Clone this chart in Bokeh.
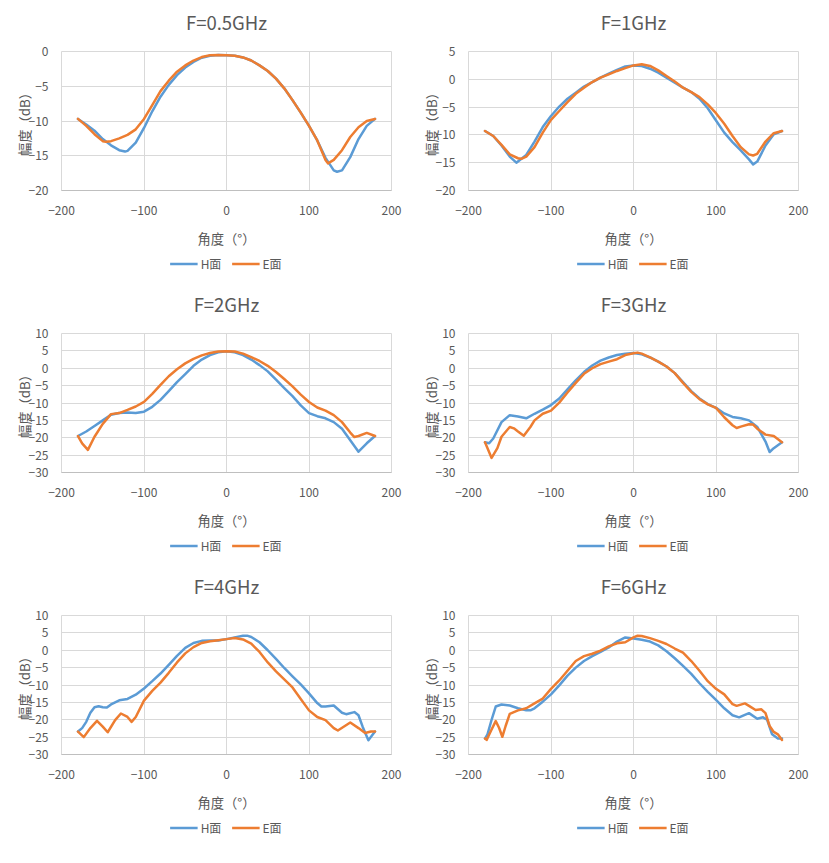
from bokeh.plotting import figure
from bokeh.layouts import column, row
from bokeh.models import Range1d, FixedTicker, Legend, LegendItem, Label
from bokeh.embed import file_html
from bokeh.resources import INLINE

titles = ["F=0.5GHz", "F=1GHz", "F=2GHz", "F=3GHz", "F=4GHz", "F=6GHz"]
y_limits = [(-20, 0), (-20, 5), (-30, 10), (-30, 10), (-30, 10), (-30, 10)]
x_ticks = [-200, -100, 0, 100, 200]
series_names = ["H面", "E面"]
x_label = "角度（°）"
y_label = "幅度（dB）"

h05_deg = [-180, -170, -160, -150, -140, -130, -123, -120, -110, -100, -90, -80, -70, -60, -50, -40, -30, -20, -10, 0,
           10, 20, 30, 40, 50, 60, 70, 80, 90, 100, 110, 120, 130, 134, 140, 150, 160, 170, 180]
h05_db = [-9.7, -10.5, -11.4, -12.6, -13.5, -14.2, -14.4, -14.3, -13.1, -11.0, -8.6, -6.5, -4.8, -3.4, -2.3, -1.5, -0.9, -0.6, -0.5, -0.55,
          -0.6, -0.85, -1.3, -2.0, -2.8, -3.9, -5.3, -7.0, -8.8, -10.7, -12.8, -15.3, -17.1, -17.3, -17.1, -15.2, -12.6, -10.7, -9.7]
e05_deg = [-180, -170, -160, -150, -146, -140, -130, -120, -110, -100, -90, -80, -70, -60, -50, -40, -30, -20, -10, 0,
           10, 20, 30, 40, 50, 60, 70, 80, 90, 100, 110, 120, 123, 130, 140, 150, 160, 170, 180]
e05_db = [-9.7, -10.7, -11.9, -12.9, -13.0, -12.9, -12.5, -12.0, -11.2, -9.7, -7.7, -5.7, -4.2, -2.9, -2.0, -1.3, -0.8, -0.55, -0.5, -0.55,
          -0.6, -0.85, -1.3, -2.0, -2.8, -3.9, -5.3, -7.0, -8.8, -10.7, -12.8, -15.6, -16.1, -15.6, -14.2, -12.3, -10.9, -10.0, -9.7]

h1_deg = [-180, -170, -160, -150, -142, -130, -120, -110, -100, -90, -80, -70, -60, -50, -40, -30, -20, -10, 0,
          10, 20, 30, 40, 50, 60, 70, 80, 90, 100, 110, 120, 130, 140, 145, 150, 160, 170, 180]
h1_db = [-9.3, -10.2, -11.9, -13.9, -15.0, -13.6, -11.2, -8.6, -6.6, -4.9, -3.5, -2.4, -1.3, -0.5, 0.3, 1.0, 1.7, 2.3, 2.5,
         2.4, 1.9, 1.2, 0.3, -0.6, -1.5, -2.3, -3.5, -5.2, -7.4, -9.6, -11.3, -12.8, -14.4, -15.3, -14.8, -11.9, -9.9, -9.3]
e1_deg = [-180, -170, -160, -150, -140, -136, -130, -120, -110, -100, -90, -80, -70, -60, -50, -40, -30, -20, -10, 0,
          10, 20, 30, 40, 50, 60, 70, 80, 90, 100, 110, 120, 130, 140, 145, 150, 160, 170, 180]
e1_db = [-9.3, -10.2, -11.8, -13.5, -14.2, -14.3, -13.9, -12.2, -9.6, -7.3, -5.7, -4.1, -2.6, -1.5, -0.5, 0.3, 0.9, 1.5, 2.0, 2.5,
         2.7, 2.4, 1.6, 0.6, -0.4, -1.5, -2.3, -3.2, -4.5, -6.1, -8.0, -10.2, -12.2, -13.5, -13.7, -13.4, -11.2, -9.7, -9.3]

h2_deg = [-180, -170, -160, -150, -140, -130, -120, -110, -100, -90, -80, -70, -60, -50, -40, -30, -20, -10, 0,
          10, 20, 30, 40, 50, 60, 70, 80, 90, 100, 110, 120, 130, 140, 150, 160, 170, 180]
h2_db = [-19.5, -18.2, -16.6, -15.0, -13.4, -12.9, -12.7, -12.9, -12.5, -11.1, -9.1, -6.6, -4.0, -1.7, 0.7, 2.5, 3.8, 4.6, 4.9,
         4.6, 3.8, 2.5, 0.9, -0.9, -3.3, -5.7, -8.0, -10.7, -12.9, -13.8, -14.4, -15.5, -17.4, -20.7, -24.0, -21.6, -19.5]
e2_deg = [-180, -175, -168, -160, -150, -140, -130, -120, -110, -100, -90, -80, -70, -60, -50, -40, -30, -20, -10, 0,
          10, 20, 30, 40, 50, 60, 70, 80, 90, 100, 110, 120, 130, 140, 150, 155, 160, 170, 180]
e2_db = [-19.5, -21.6, -23.5, -19.7, -16.0, -13.2, -12.9, -12.0, -11.0, -9.7, -7.4, -4.8, -2.3, -0.3, 1.4, 2.7, 3.7, 4.4, 4.8, 4.9,
         4.8, 4.2, 3.2, 2.1, 0.7, -1.1, -3.1, -5.2, -7.6, -9.7, -11.3, -12.2, -13.5, -15.5, -18.5, -19.8, -19.5, -18.6, -19.5]

h3_deg = [-180, -175, -170, -160, -150, -140, -130, -120, -110, -100, -90, -80, -70, -60, -50, -40, -30, -20, -10, 0,
          10, 20, 30, 40, 50, 60, 70, 80, 90, 100, 110, 120, 130, 140, 150, 160, 165, 170, 180]
h3_db = [-21.3, -21.6, -20.2, -15.5, -13.5, -13.9, -14.4, -13.1, -11.9, -10.6, -8.7, -6.1, -3.5, -1.1, 0.8, 2.2, 3.1, 3.8, 4.2, 4.4,
         4.0, 3.1, 1.9, 0.5, -1.4, -4.0, -6.6, -8.7, -10.3, -11.4, -13.0, -14.0, -14.4, -15.0, -16.9, -21.1, -24.1, -23.0, -21.3]
e3_deg = [-180, -172, -165, -160, -150, -145, -140, -133, -125, -120, -110, -100, -90, -80, -70, -60, -50, -40, -30, -20, -10, 0, 5,
          10, 20, 30, 40, 50, 60, 70, 80, 90, 100, 110, 120, 125, 130, 140, 145, 150, 160, 170, 180]
e3_db = [-21.3, -25.8, -23.0, -19.7, -16.9, -17.3, -18.2, -19.4, -16.9, -15.0, -13.1, -12.2, -9.9, -7.0, -4.2, -1.6, 0.0, 1.2, 1.9, 2.6, 3.8, 4.3, 4.5,
         4.2, 3.1, 1.9, 0.5, -1.4, -4.2, -6.8, -8.9, -10.4, -11.4, -14.1, -16.4, -17.2, -16.8, -16.1, -16.2, -17.4, -19.1, -19.5, -21.3]

h4_deg = [-180, -175, -170, -165, -160, -155, -150, -145, -140, -130, -120, -110, -100, -90, -80, -70, -60, -50, -40, -30, -20, -10, 0,
          10, 20, 25, 30, 40, 50, 60, 70, 80, 90, 100, 110, 115, 120, 130, 140, 145, 155, 160, 165, 172, 180]
h4_db = [-23.4, -22.4, -20.6, -18.0, -16.4, -16.1, -16.4, -16.5, -15.6, -14.4, -14.0, -12.8, -11.0, -8.9, -6.7, -4.2, -1.6, 0.7, 2.1, 2.7, 2.8, 2.8, 3.2,
         3.7, 4.2, 4.2, 3.8, 2.3, 0.0, -2.5, -5.1, -7.5, -9.8, -12.4, -15.2, -16.2, -16.2, -15.9, -18.0, -18.4, -17.8, -18.7, -22.0, -25.9, -23.4]
e4_deg = [-180, -173, -165, -157, -150, -144, -135, -128, -120, -115, -110, -100, -90, -80, -70, -60, -50, -40, -30, -20, -10, 0,
          10, 20, 30, 40, 50, 60, 70, 80, 90, 100, 110, 120, 130, 135, 150, 160, 168, 175, 180]
e4_db = [-23.4, -25.0, -22.4, -20.3, -22.0, -23.6, -20.1, -18.2, -19.2, -20.6, -19.2, -14.5, -11.7, -9.3, -6.5, -3.5, -0.9, 0.9, 2.1, 2.6, 2.9, 3.2,
         3.5, 3.1, 1.9, -0.5, -3.5, -6.1, -8.4, -10.7, -14.0, -17.3, -19.2, -20.1, -22.4, -23.1, -20.8, -22.4, -23.8, -23.4, -23.4]

h6_deg = [-180, -177, -172, -167, -160, -150, -140, -130, -125, -120, -110, -100, -90, -80, -70, -60, -50, -40, -30, -20, -10, 0,
          10, 20, 30, 40, 50, 60, 70, 80, 90, 100, 110, 120, 128, 135, 140, 150, 157, 162, 168, 175, 180]
h6_db = [-25.4, -24.2, -20.0, -16.2, -15.6, -15.9, -16.7, -17.3, -17.3, -16.7, -14.8, -12.7, -10.1, -7.3, -5.0, -3.1, -1.7, -0.5, 0.8, 2.5, 3.7, 3.4,
         3.0, 2.5, 1.4, -0.3, -2.3, -4.5, -6.8, -9.5, -12.0, -14.3, -16.7, -18.7, -19.3, -18.6, -18.1, -19.7, -19.3, -20.0, -24.2, -25.4, -25.4]
e6_deg = [-180, -178, -172, -167, -163, -159, -155, -150, -140, -130, -120, -110, -100, -90, -80, -70, -60, -50, -40, -30, -20, -10, 0,
          5, 10, 20, 30, 40, 50, 60, 70, 80, 90, 100, 110, 120, 125, 135, 140, 148, 155, 160, 165, 170, 175, 180]
e6_db = [-25.4, -25.8, -22.8, -20.4, -22.3, -24.9, -21.8, -18.3, -17.3, -16.7, -15.3, -13.9, -11.1, -8.7, -5.9, -3.1, -1.7, -1.0, -0.1, 1.1, 2.0, 2.3, 3.7,
         4.2, 4.1, 3.5, 2.7, 1.8, 0.5, -0.7, -3.1, -5.9, -8.9, -11.1, -12.7, -15.5, -16.0, -15.3, -16.0, -17.2, -17.0, -18.1, -21.8, -23.5, -24.2, -25.8]

h_series = [(h05_deg, h05_db), (h1_deg, h1_db), (h2_deg, h2_db), (h3_deg, h3_db), (h4_deg, h4_db), (h6_deg, h6_db)]
e_series = [(e05_deg, e05_db), (e1_deg, e1_db), (e2_deg, e2_db), (e3_deg, e3_db), (e4_deg, e4_db), (e6_deg, e6_db)]

BLUE = "#5B9BD5"
ORANGE = "#ED7D31"
GRID = "#D9D9D9"
TXT = "#595959"
FONT = "Noto Sans CJK SC"

W = 406
TITLE_H, MAIN_H, LEG_H = 43, 207, 31
LINE_W = 2.5


def blank_fig(height, bottom=0, x_range=(0, 1)):
    f = figure(width=W, height=height, output_backend="svg", toolbar_location=None,
               x_range=Range1d(*x_range), y_range=Range1d(0, 1),
               x_axis_type=None, y_axis_type=None,
               min_border_left=61, min_border_right=15, min_border_top=0, min_border_bottom=bottom)
    f.outline_line_color = None
    f.background_fill_color = "white"
    f.border_fill_color = "white"
    return f


def make_cell(i):
    ymin, ymax = y_limits[i]
    hx, hy = h_series[i]
    ex, ey = e_series[i]

    # title strip
    tf = blank_fig(TITLE_H)
    tf.add_layout(Label(x=0.5, y=0.49, text=titles[i], text_align="center", text_baseline="middle",
                        text_font=FONT, text_font_size="18.5px", text_color=TXT))

    # chart area
    p = figure(width=W, height=MAIN_H, output_backend="svg", toolbar_location=None,
               x_range=Range1d(-200, 200), y_range=Range1d(ymin, ymax),
               min_border_left=61, min_border_right=15, min_border_top=8, min_border_bottom=59)
    p.outline_line_color = GRID
    p.background_fill_color = "white"
    p.border_fill_color = "white"

    p.xaxis.ticker = FixedTicker(ticks=x_ticks)
    p.yaxis.ticker = FixedTicker(ticks=list(range(ymin, ymax + 1, 5)))
    for ax in (p.xaxis[0], p.yaxis[0]):
        ax.major_tick_line_color = None
        ax.minor_tick_line_color = None
        ax.major_label_text_font = FONT
        ax.major_label_text_font_size = "12px"
        ax.major_label_text_color = TXT
        ax.axis_label_text_font = FONT
        ax.axis_label_text_font_size = "13.3px"
        ax.axis_label_text_font_style = "normal"
        ax.axis_label_text_color = TXT
    p.xaxis.axis_line_color = "#BFBFBF"
    p.yaxis.axis_line_color = None
    p.xaxis.major_label_standoff = 9
    p.yaxis.major_label_standoff = 7
    p.xaxis.axis_label = x_label
    p.yaxis.axis_label = y_label
    p.xaxis.axis_label_standoff = 11
    p.yaxis.axis_label_standoff = -8
    p.xgrid.grid_line_color = GRID
    p.ygrid.grid_line_color = GRID

    p.line(hx, hy, line_color=BLUE, line_width=LINE_W, line_join="round", line_cap="round")
    p.line(ex, ey, line_color=ORANGE, line_width=LINE_W, line_join="round", line_cap="round")

    # legend strip: key renderers reuse the series but sit outside this strip's visible range
    lf = blank_fig(LEG_H, bottom=5, x_range=(1000, 1001))
    k1 = lf.line(hx, hy, line_color=BLUE, line_width=LINE_W)
    k2 = lf.line(ex, ey, line_color=ORANGE, line_width=LINE_W)
    legend = Legend(items=[LegendItem(label=series_names[0], renderers=[k1]),
                           LegendItem(label=series_names[1], renderers=[k2])],
                    orientation="horizontal", location="center",
                    border_line_color=None, background_fill_alpha=0,
                    label_text_font=FONT, label_text_font_size="12px", label_text_color=TXT,
                    glyph_width=28, glyph_height=14, label_standoff=3, spacing=10,
                    padding=0, margin=0)
    lf.add_layout(legend, "center")

    return column(tf, p, lf, spacing=0)


cells = [make_cell(i) for i in range(6)]
page = column(row(cells[0], cells[1], spacing=1),
              row(cells[2], cells[3], spacing=1),
              row(cells[4], cells[5], spacing=1), spacing=1)

open("out.html", "w").write(file_html(page, INLINE))
